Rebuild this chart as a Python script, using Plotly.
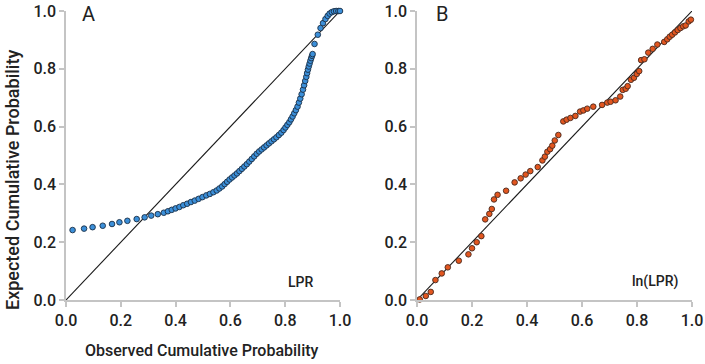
import plotly.graph_objects as go

# Panel A (LPR) observed vs expected cumulative probability
a_obs = [0.024, 0.066, 0.097, 0.134, 0.168, 0.195, 0.224, 0.258, 0.287, 0.311,
         0.335, 0.357, 0.372, 0.386, 0.400, 0.414, 0.428, 0.442, 0.456, 0.470,
         0.484, 0.498, 0.512, 0.525, 0.538, 0.550, 0.560, 0.570, 0.579, 0.588,
         0.597, 0.606, 0.615, 0.624, 0.633, 0.642, 0.651, 0.660, 0.669, 0.678,
         0.687, 0.696, 0.705, 0.714, 0.723, 0.732, 0.741, 0.750, 0.759, 0.768,
         0.777, 0.786, 0.794, 0.801, 0.808, 0.815, 0.821, 0.827, 0.833, 0.839,
         0.845, 0.850, 0.855, 0.860, 0.865, 0.869, 0.873, 0.877, 0.880, 0.883,
         0.886, 0.889, 0.892, 0.895, 0.898, 0.900, 0.907, 0.919, 0.929, 0.938,
         0.947, 0.955, 0.962, 0.970, 0.978, 0.986, 0.994, 1.000]
a_exp = [0.242, 0.247, 0.252, 0.257, 0.263, 0.269, 0.274, 0.280, 0.286, 0.292,
         0.297, 0.302, 0.307, 0.312, 0.317, 0.322, 0.328, 0.333, 0.339, 0.344,
         0.350, 0.356, 0.362, 0.367, 0.373, 0.379, 0.386, 0.393, 0.401, 0.409,
         0.417, 0.424, 0.431, 0.438, 0.446, 0.454, 0.462, 0.470, 0.479, 0.488,
         0.497, 0.506, 0.514, 0.521, 0.528, 0.535, 0.542, 0.549, 0.556, 0.563,
         0.571, 0.579, 0.588, 0.597, 0.606, 0.615, 0.625, 0.635, 0.646, 0.657,
         0.669, 0.683, 0.697, 0.712, 0.728, 0.743, 0.758, 0.772, 0.785, 0.797,
         0.808, 0.818, 0.828, 0.837, 0.845, 0.851, 0.886, 0.918, 0.941, 0.958,
         0.972, 0.983, 0.991, 0.996, 0.999, 1.000, 1.000, 1.000]

# Panel B (ln(LPR))
b_obs = [0.010, 0.032, 0.050, 0.067, 0.090, 0.112, 0.152, 0.187, 0.200, 0.217,
         0.234, 0.248, 0.263, 0.272, 0.280, 0.293, 0.324, 0.355, 0.377, 0.395,
         0.412, 0.439, 0.456, 0.465, 0.474, 0.484, 0.492, 0.501, 0.514, 0.532,
         0.544, 0.558, 0.576, 0.593, 0.605, 0.619, 0.641, 0.673, 0.692, 0.704,
         0.722, 0.739, 0.748, 0.759, 0.766, 0.778, 0.789, 0.799, 0.808, 0.815,
         0.827, 0.841, 0.857, 0.874, 0.899, 0.910, 0.919, 0.928, 0.938, 0.948,
         0.958, 0.968, 0.977, 0.988, 0.996]
b_exp = [0.002, 0.014, 0.028, 0.069, 0.092, 0.113, 0.136, 0.158, 0.179, 0.200,
         0.221, 0.279, 0.298, 0.315, 0.348, 0.364, 0.378, 0.407, 0.421, 0.434,
         0.446, 0.460, 0.483, 0.496, 0.513, 0.522, 0.534, 0.552, 0.571, 0.618,
         0.624, 0.630, 0.637, 0.652, 0.656, 0.662, 0.669, 0.675, 0.683, 0.686,
         0.691, 0.704, 0.727, 0.731, 0.740, 0.762, 0.769, 0.782, 0.792, 0.830,
         0.833, 0.856, 0.869, 0.884, 0.893, 0.902, 0.911, 0.918, 0.926, 0.934,
         0.941, 0.947, 0.950, 0.964, 0.970]

diag = [0, 1]
tick_vals = [0.0, 0.2, 0.4, 0.6, 0.8, 1.0]
tick_text = ["0.0", "0.2", "0.4", "0.6", "0.8", "1.0"]

FONT = "Roboto"
TXT = "#222222"

fig = go.Figure()
fig.add_trace(go.Scatter(x=diag, y=diag, mode="lines", line=dict(color="#1a1a1a", width=1.1),
                         xaxis="x", yaxis="y", showlegend=False, hoverinfo="skip"))
fig.add_trace(go.Scatter(x=a_obs, y=a_exp, mode="markers", xaxis="x", yaxis="y",
                         marker=dict(size=5.6, color="#3b8fd9", line=dict(color="#1b2f45", width=0.9)),
                         showlegend=False, cliponaxis=False))
fig.add_trace(go.Scatter(x=diag, y=diag, mode="lines", line=dict(color="#1a1a1a", width=1.1),
                         xaxis="x2", yaxis="y2", showlegend=False, hoverinfo="skip"))
fig.add_trace(go.Scatter(x=b_obs, y=b_exp, mode="markers", xaxis="x2", yaxis="y2",
                         marker=dict(size=5.6, color="#e2561f", line=dict(color="#4a2a1f", width=0.9)),
                         showlegend=False, cliponaxis=False))

axis_common = dict(range=[0, 1], showgrid=False, zeroline=False, showline=True,
                   linecolor="#c4c4c4", linewidth=1.5, ticks="outside", ticklen=5,
                   tickcolor="#c4c4c4", tickwidth=1.5, tickvals=tick_vals, ticktext=tick_text,
                   automargin=False,
                   tickfont=dict(family=FONT, size=16, color=TXT, weight=500))

L, R, T, B = 66, 13, 11, 64
W, H = 705, 364
pw = W - L - R
ph = H - T - B
fig.update_layout(
    width=W, height=H,
    margin=dict(l=L, r=R, t=T, b=B, autoexpand=False),
    paper_bgcolor="white", plot_bgcolor="white",
    xaxis=dict(domain=[0, (340 - L) / pw], anchor="y", **axis_common),
    yaxis=dict(domain=[0, 1], anchor="x", **axis_common),
    xaxis2=dict(domain=[(417 - L) / pw, 1], anchor="y2", **axis_common),
    yaxis2=dict(domain=[0, 1], anchor="x2", **axis_common),
)

def px_ann(text, x, y, size, angle=0, weight=500):
    return dict(text=text, x=(x - L) / pw, y=(H - B - y) / ph,
                xref="paper", yref="paper", showarrow=False, textangle=angle,
                xanchor="center", yanchor="middle",
                font=dict(family=FONT, size=size, color=TXT, weight=weight))

fig.layout.annotations = [
    px_ann("A", 88, 14, 20, weight=400),
    px_ann("B", 442, 14, 20, weight=400),
    px_ann("LPR", 300, 282, 14),
    px_ann("ln(LPR)", 655, 281, 14),
    px_ann("Observed Cumulative Probability", 202, 350, 16),
    px_ann("Expected Cumulative Probability", 12, 180, 18, angle=-90),
]

fig.write_html("out.html", config={"displayModeBar": False},
               post_script="document.body.style.margin='0';")
